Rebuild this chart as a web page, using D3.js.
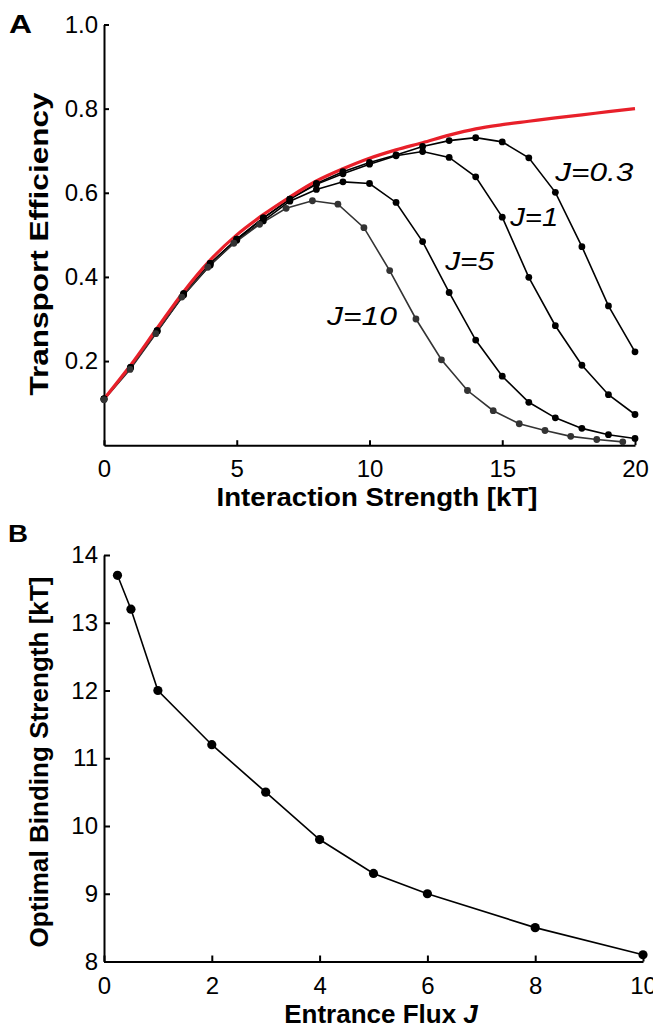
<!DOCTYPE html>
<html>
<head>
<meta charset="utf-8">
<script src="https://cdn.jsdelivr.net/npm/d3@7"></script>
<style>
  body { margin: 0; background: #fff; }
  svg { display: block; font-family: "Liberation Sans", Arial, sans-serif; }
</style>
</head>
<body>
<svg id="chart" width="653" height="1028"></svg>
<script>
// panel A: transport efficiency vs interaction strength
const interaction = [0, 1, 2, 3, 4, 5, 6, 7, 8, 9, 10, 11, 12, 13, 14, 15, 16, 17, 18, 19, 20];
// the J=10 points sit on a slightly compressed grid in the original
const interactionJ10 = [0, 0.98, 1.95, 2.93, 3.91, 4.89, 5.86, 6.86, 7.85, 8.81, 9.79, 10.76, 11.75, 12.71, 13.69, 14.66, 15.64, 16.61, 17.58, 18.56, 19.54];
const effJ03 = [0.11, 0.185, 0.272, 0.36, 0.432, 0.49, 0.54, 0.585, 0.622, 0.65, 0.672, 0.69, 0.71, 0.724, 0.731, 0.721, 0.683, 0.601, 0.472, 0.331, 0.222];
const effJ1 = [0.11, 0.185, 0.272, 0.36, 0.432, 0.49, 0.54, 0.585, 0.62, 0.645, 0.668, 0.688, 0.698, 0.684, 0.638, 0.542, 0.399, 0.284, 0.19, 0.12, 0.073];
const effJ5 = [0.11, 0.184, 0.27, 0.357, 0.428, 0.487, 0.533, 0.58, 0.608, 0.626, 0.622, 0.577, 0.484, 0.363, 0.25, 0.164, 0.102, 0.065, 0.04, 0.025, 0.016];
const effJ10 = [0.108, 0.18, 0.265, 0.352, 0.423, 0.48, 0.525, 0.563, 0.581, 0.573, 0.517, 0.415, 0.3, 0.203, 0.13, 0.082, 0.051, 0.035, 0.021, 0.0135, 0.008];
const effLimit = [0.11, 0.19, 0.278, 0.365, 0.44, 0.5, 0.548, 0.59, 0.628, 0.657, 0.682, 0.702, 0.719, 0.737, 0.752, 0.762, 0.77, 0.778, 0.785, 0.793, 0.8];
const yTicksA = [0.2, 0.4, 0.6, 0.8, 1.0];
const xTicksA = [0, 5, 10, 15, 20];
const curveLabels = ['J=0.3', 'J=1', 'J=5', 'J=10'];
const labelX = [17.0, 15.3, 12.85, 8.4];
const labelY = [0.628, 0.521, 0.417, 0.285];

// panel B: optimal binding strength vs entrance flux
const flux = [0.25, 0.5, 1, 2, 3, 4, 5, 6, 8, 10];
const optimalBinding = [13.7, 13.2, 12.0, 11.2, 10.5, 9.8, 9.3, 9.0, 8.5, 8.1];
const yTicksB = [8, 9, 10, 11, 12, 13, 14];
const xTicksB = [0, 2, 4, 6, 8, 10];

const svg = d3.select('#chart');
const FONT = '"Liberation Sans", Arial, sans-serif';

function styleAxis(g, size) {
  g.select('.domain').attr('stroke', '#000').attr('stroke-width', 2);
  g.selectAll('.tick line').attr('stroke', '#000').attr('stroke-width', 2);
  g.selectAll('.tick text')
      .attr('fill', '#000')
      .style('font-family', FONT)
      .style('font-size', `${size}px`);
}

// titles in the original are drawn a bit wider than the font, so stretch them
function title(x, y, txt, len, rotate) {
  return svg.append('text')
      .attr('transform', `translate(${x}, ${y})${rotate ? ' rotate(-90)' : ''}`)
      .attr('text-anchor', 'middle')
      .attr('textLength', len)
      .attr('lengthAdjust', 'spacingAndGlyphs')
      .style('font-weight', 'bold')
      .style('font-size', '26px')
      .text(txt);
}

// ---- panel A ----
const xA = d3.scaleLinear().domain([0, 20]).range([104, 635]);
const yA = d3.scaleLinear().domain([0, 1]).range([445.2, 24.5]);

svg.append('g')
    .attr('transform', `translate(0, ${yA(0)})`)
    .call(d3.axisBottom(xA).tickValues(xTicksA).tickSizeInner(-5).tickSizeOuter(0).tickPadding(15))
    .call((g) => styleAxis(g, 24));

svg.append('g')
    .attr('transform', `translate(${xA(0)}, 0)`)
    .call(d3.axisLeft(yA).tickValues(yTicksA).tickFormat(d3.format('.1f'))
      .tickSizeInner(-5).tickSizeOuter(0).tickPadding(6))
    .call((g) => styleAxis(g, 24));

const line = d3.line().x((d) => d[0]).y((d) => d[1]);
const seriesA = [
  { xs: interaction, ys: effJ03, color: '#000' },
  { xs: interaction, ys: effJ1, color: '#000' },
  { xs: interaction, ys: effJ5, color: '#000' },
  { xs: interactionJ10, ys: effJ10, color: '#333' },
];

const plotA = svg.append('g');
seriesA.forEach((s) => {
  const pts = s.xs.map((x, i) => [xA(x), yA(s.ys[i])]);
  plotA.append('path')
      .attr('d', line(pts))
      .attr('fill', 'none')
      .attr('stroke', s.color)
      .attr('stroke-width', 1.6);
});

plotA.append('path')
    .attr('d', d3.line().curve(d3.curveMonotoneX)(interaction.map((x, i) => [xA(x), yA(effLimit[i])])))
    .attr('fill', 'none')
    .attr('stroke', '#e8202a')
    .attr('stroke-width', 3.2);

seriesA.forEach((s) => {
  plotA.append('g')
    .selectAll('circle')
    .data(s.xs.map((x, i) => [x, s.ys[i]]))
    .join('circle')
      .attr('cx', (d) => xA(d[0]))
      .attr('cy', (d) => yA(d[1]))
      .attr('r', 3.4)
      .attr('fill', s.color);
});

const labelLen = [78, 48, 49, 70];
svg.append('g')
  .selectAll('text')
  .data(curveLabels)
  .join('text')
    .attr('x', (d, i) => xA(labelX[i]))
    .attr('y', (d, i) => yA(labelY[i]))
    .attr('textLength', (d, i) => labelLen[i])
    .attr('lengthAdjust', 'spacingAndGlyphs')
    .style('font-style', 'italic')
    .style('font-size', '26px')
    .text((d) => d);

title(377, 506, 'Interaction Strength [kT]', 321);
title(48, 244, 'Transport Efficiency', 303, true);

svg.append('text')
    .attr('x', 9)
    .attr('y', 33)
    .attr('textLength', 23)
    .attr('lengthAdjust', 'spacingAndGlyphs')
    .style('font-weight', 'bold')
    .style('font-size', '26px')
    .text('A');

// ---- panel B ----
const xB = d3.scaleLinear().domain([0, 10]).range([104, 643]);
const yB = d3.scaleLinear().domain([8, 14]).range([961.5, 555]);

svg.append('g')
    .attr('transform', `translate(0, ${yB(8)})`)
    .call(d3.axisBottom(xB).tickValues(xTicksB).tickSizeInner(-6).tickSizeOuter(0).tickPadding(15))
    .call((g) => styleAxis(g, 24));

svg.append('g')
    .attr('transform', `translate(${xB(0)}, 0)`)
    .call(d3.axisLeft(yB).tickValues(yTicksB).tickFormat(d3.format('d'))
      .tickSizeInner(-6).tickSizeOuter(0).tickPadding(6))
    .call((g) => styleAxis(g, 24));

svg.append('path')
    .attr('d', line(flux.map((f, i) => [xB(f), yB(optimalBinding[i])])))
    .attr('fill', 'none')
    .attr('stroke', '#000')
    .attr('stroke-width', 1.6);

svg.append('g')
  .selectAll('circle')
  .data(flux)
  .join('circle')
    .attr('cx', (d) => xB(d))
    .attr('cy', (d, i) => yB(optimalBinding[i]))
    .attr('r', 4.6)
    .attr('fill', '#000');

const titleB = svg.append('text')
    .attr('x', 381)
    .attr('y', 1023)
    .attr('text-anchor', 'middle')
    .style('font-weight', 'bold')
    .style('font-size', '26px');
titleB.append('tspan').text('Entrance Flux ');
titleB.append('tspan').style('font-style', 'italic').text('J');

title(48, 762, 'Optimal Binding Strength [kT]', 371, true);

svg.append('text')
    .attr('x', 8)
    .attr('y', 542)
    .attr('textLength', 20)
    .attr('lengthAdjust', 'spacingAndGlyphs')
    .style('font-weight', 'bold')
    .style('font-size', '24px')
    .text('B');
</script>
</body>
</html>
